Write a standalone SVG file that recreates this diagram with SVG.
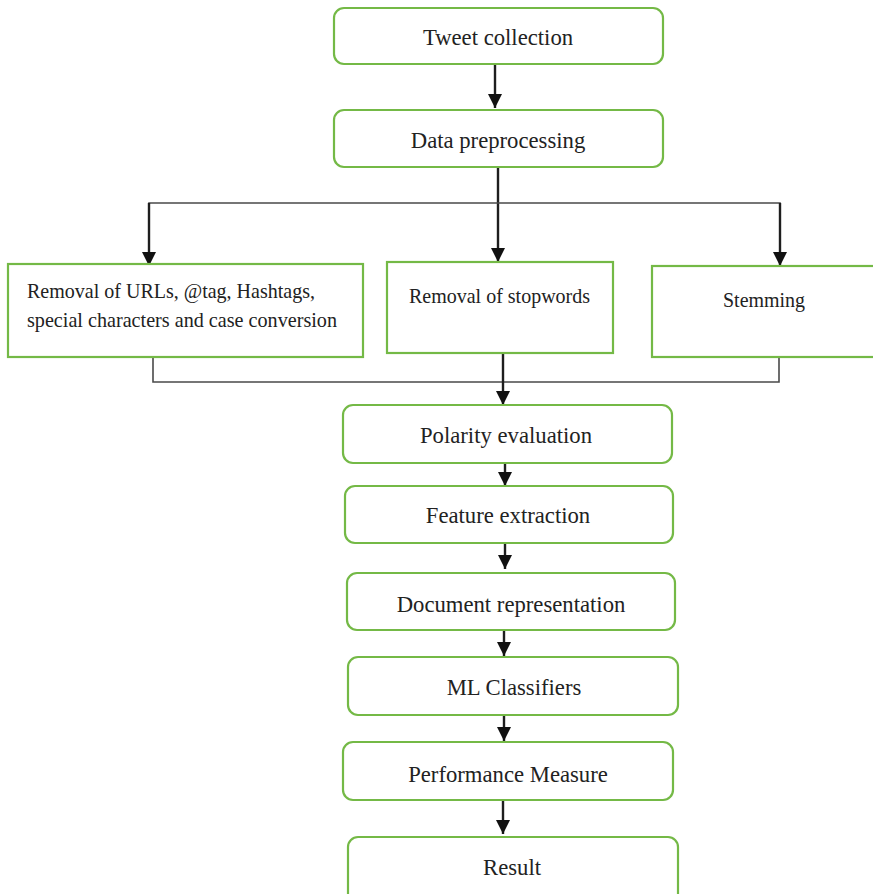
<svg xmlns="http://www.w3.org/2000/svg" width="873" height="894" viewBox="0 0 873 894">
  <style>
    .box { fill: #ffffff; stroke: #74b946; stroke-width: 2.2; }
    .lbl { font-family: "Liberation Serif", "Times New Roman", serif; font-size: 22.7px; fill: #222; }
    .sm { font-size: 21.5px; }
    .mid { text-anchor: middle; }
    .wire { fill: none; stroke: #1e1e1e; stroke-width: 2.4; }
    .thin { fill: none; stroke: #4a4a4a; stroke-width: 1.6; }
  </style>
  <defs>
    <marker id="head" viewBox="0 0 10 10" refX="10" refY="5" markerWidth="15" markerHeight="14" markerUnits="userSpaceOnUse" orient="auto">
      <path d="M0,0 L10,5 L0,10 z" fill="#111"/>
    </marker>
  </defs>
  <rect width="873" height="894" fill="#ffffff"/>

  <!-- flow connectors -->
  <g id="connectors">
    <line class="wire" x1="495" y1="64" x2="495" y2="108" marker-end="url(#head)"/>
    <line class="wire" x1="498" y1="167" x2="498" y2="262" marker-end="url(#head)"/>
    <polyline class="thin" points="149,220 149,203 780,203 780,220"/>
    <line class="wire" x1="149" y1="203" x2="149" y2="266" marker-end="url(#head)"/>
    <line class="wire" x1="780" y1="203" x2="780" y2="266" marker-end="url(#head)"/>
    <polyline class="thin" points="153,357 153,382 779,382 779,357"/>
    <line class="wire" x1="503" y1="353" x2="503" y2="405" marker-end="url(#head)"/>
    <line class="wire" x1="505" y1="463" x2="505" y2="486" marker-end="url(#head)"/>
    <line class="wire" x1="505" y1="543" x2="505" y2="569" marker-end="url(#head)"/>
    <line class="wire" x1="504" y1="630" x2="504" y2="656" marker-end="url(#head)"/>
    <line class="wire" x1="504" y1="715" x2="504" y2="741" marker-end="url(#head)"/>
    <line class="wire" x1="503" y1="800" x2="503" y2="834" marker-end="url(#head)"/>
  </g>

  <g id="tweet-collection">
    <rect class="box" x="334" y="8" width="329" height="56" rx="10"/>
    <text class="lbl mid" x="498" y="45">Tweet collection</text>
  </g>
  <g id="data-preprocessing">
    <rect class="box" x="334" y="110" width="329" height="57" rx="10"/>
    <text class="lbl mid" x="498" y="148">Data preprocessing</text>
  </g>
  <g id="removal-urls">
    <rect class="box" x="8" y="264" width="355" height="93"/>
    <text class="lbl sm" x="27" y="298" textLength="288" lengthAdjust="spacingAndGlyphs">Removal of URLs, @tag, Hashtags,</text>
    <text class="lbl sm" x="27" y="327" textLength="310" lengthAdjust="spacingAndGlyphs">special characters and case conversion</text>
  </g>
  <g id="removal-stopwords">
    <rect class="box" x="387" y="262" width="226" height="91"/>
    <text class="lbl sm" x="409" y="303" textLength="181" lengthAdjust="spacingAndGlyphs">Removal of stopwords</text>
  </g>
  <g id="stemming">
    <rect class="box" x="652" y="266" width="225" height="91"/>
    <text class="lbl sm" x="723" y="307" textLength="82" lengthAdjust="spacingAndGlyphs">Stemming</text>
  </g>
  <g id="polarity-evaluation">
    <rect class="box" x="343" y="405" width="329" height="58" rx="10"/>
    <text class="lbl mid" x="506" y="443">Polarity evaluation</text>
  </g>
  <g id="feature-extraction">
    <rect class="box" x="345" y="486" width="328" height="57" rx="10"/>
    <text class="lbl mid" x="508" y="523">Feature extraction</text>
  </g>
  <g id="document-representation">
    <rect class="box" x="347" y="573" width="328" height="57" rx="10"/>
    <text class="lbl mid" x="511" y="612">Document representation</text>
  </g>
  <g id="ml-classifiers">
    <rect class="box" x="348" y="657" width="330" height="58" rx="10"/>
    <text class="lbl mid" x="514" y="695">ML Classifiers</text>
  </g>
  <g id="performance-measure">
    <rect class="box" x="343" y="742" width="330" height="58" rx="10"/>
    <text class="lbl mid" x="508" y="782">Performance Measure</text>
  </g>
  <g id="result">
    <rect class="box" x="348" y="837" width="330" height="70" rx="10"/>
    <text class="lbl mid" x="512" y="875">Result</text>
  </g>
</svg>
